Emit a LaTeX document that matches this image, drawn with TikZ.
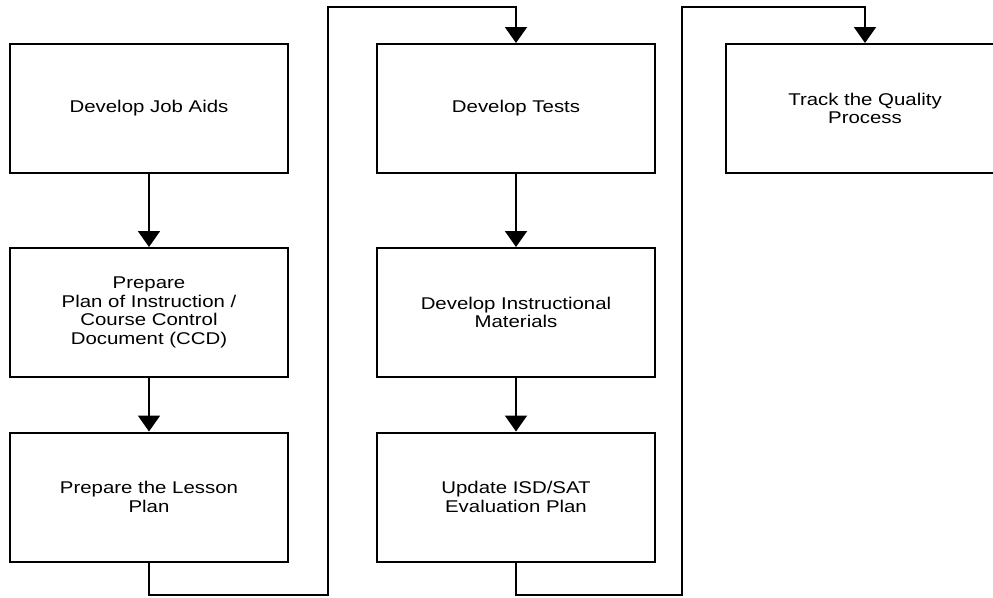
\documentclass[tikz,border=0pt]{standalone}
\usepackage{fontspec}
\setmainfont{Liberation Sans}[FakeStretch=1.2]
\usetikzlibrary{arrows.meta}
\begin{document}
\begin{tikzpicture}[x=1pt,y=-1pt,
  stepbox/.style={draw, line width=2pt, minimum width=278pt, minimum height=129pt,
    inner sep=0pt, align=center, font=\fontsize{17pt}{18.7pt}\selectfont},
  flow/.style={line width=2pt, -{Triangle[length=16pt,width=22pt]}}]
\useasboundingbox (0,0) rectangle (993,597);
% column 1
\node[stepbox] (aids)   at (149,108.5) {Develop Job Aids};
\node[stepbox] (poi)    at (149,312.5) {Prepare\\Plan of Instruction /\\Course Control\\Document (CCD)};
\node[stepbox] (lesson) at (149,497)   {Prepare the Lesson\\Plan};
% column 2
\node[stepbox] (tests)  at (516,108.5) {Develop Tests};
\node[stepbox] (mats)   at (516,312.5) {Develop Instructional\\Materials};
\node[stepbox] (eval)   at (516,497)   {Update ISD/SAT\\Evaluation Plan};
% column 3
\node[stepbox] (track)  at (865,108.5) {Track the Quality\\Process};
% routing corners between columns
\coordinate (r1b) at (328,595);
\coordinate (r1t) at (328,7);
\coordinate (r2b) at (682,595);
\coordinate (r2t) at (682,7);
% connectors
\draw[flow] (aids) -- (poi);
\draw[flow] (poi) -- (lesson);
\draw[flow] (tests) -- (mats);
\draw[flow] (mats) -- (eval);
\draw[flow] (lesson.south) |- (r1b) -- (r1t) -| (tests.north);
\draw[flow] (eval.south) |- (r2b) -- (r2t) -| (track.north);
\end{tikzpicture}
\end{document}
